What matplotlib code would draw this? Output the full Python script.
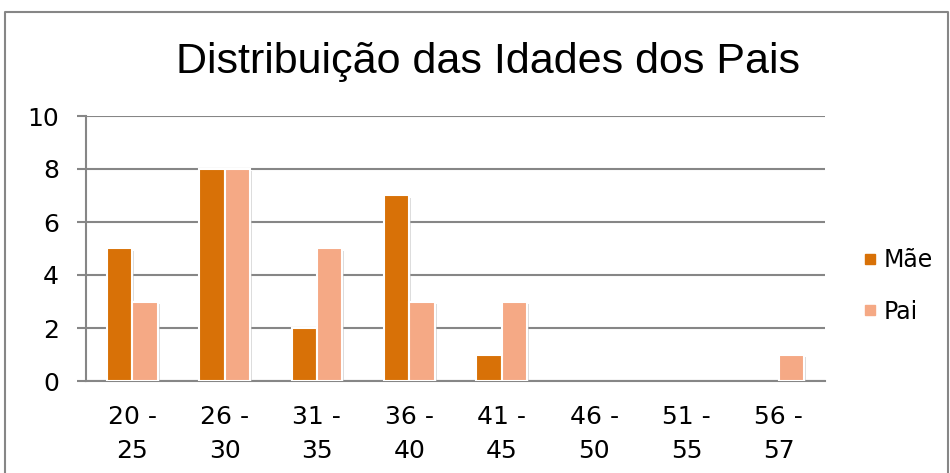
import matplotlib
matplotlib.use("Agg")
import matplotlib.pyplot as plt
import matplotlib.patheffects as pe
from matplotlib.lines import Line2D
import numpy as np

categories = ["20 -\n25", "26 -\n30", "31 -\n35", "36 -\n40", "41 -\n45", "46 -\n50", "51 -\n55", "56 -\n57"]
mae = [5, 8, 2, 7, 1, 0, 0, 0]
pai = [3, 8, 5, 3, 3, 0, 0, 1]
series_names = ["Mãe", "Pai"]
colors = ["#D87107", "#F5A985"]
yticks = [0, 2, 4, 6, 8, 10]
title = "Distribuição das Idades dos Pais"

W, H = 950, 473
fig = plt.figure(figsize=(W / 100, H / 100), dpi=100)
ax = fig.add_axes([86 / W, 1 - 381 / H, (825 - 86) / W, (381 - 116) / H])

x = np.arange(len(categories))
bw = 0.275
shadow = [pe.SimplePatchShadow(offset=(1.5, -1.5), shadow_rgbFace="#BBBBBB", alpha=0.5), pe.Normal()]
for vals, off, c, name in [(mae, -bw / 2, colors[0], series_names[0]), (pai, bw / 2, colors[1], series_names[1])]:
    bars = ax.bar(x + off, vals, width=bw, color=c, edgecolor="white", linewidth=1.5, zorder=3, label=name)
    for b, v in zip(bars, vals):
        if v > 0:
            b.set_path_effects(shadow)
        else:
            b.set_visible(False)

ax.set_xlim(-0.5, len(categories) - 0.5)
ax.set_ylim(0, 10)
ax.set_yticks(yticks)
ax.set_yticklabels([str(t) for t in yticks], fontfamily="DejaVu Sans", fontsize=18)
ax.set_xticks(x)
ax.set_xticklabels(categories, fontfamily="DejaVu Sans", fontsize=18, linespacing=1.57)
ax.tick_params(axis="x", length=0, pad=17)
ax.tick_params(axis="y", length=6.5, width=1.5, color="#868686", pad=13, direction="out")
ax.yaxis.grid(True, color="#868686", linewidth=1.5, zorder=0)
for s in ["top", "right"]:
    ax.spines[s].set_visible(False)
for s in ["left", "bottom"]:
    ax.spines[s].set_color("#868686")
    ax.spines[s].set_linewidth(1.5)

fig.text(488 / W, 1 - 62 / H, title, ha="center", va="center", fontfamily="Liberation Sans", fontsize=31)

handles = [Line2D([], [], marker="s", linestyle="none", markersize=7.5, markerfacecolor=c, markeredgecolor=c) for c in colors]
fig.legend(handles, series_names, loc="center left", bbox_to_anchor=(842 / W, 1 - 286 / H), frameon=False,
           prop={"family": "DejaVu Sans", "size": 17}, handlelength=0.6, handletextpad=0.25, labelspacing=1.15)

# outer chart border
fig.add_artist(Line2D([5 / W, 5 / W, 948 / W, 948 / W], [0, 1 - 12 / H, 1 - 12 / H, 0], transform=fig.transFigure, color="#868686", linewidth=1.5))

fig.savefig("out.png", dpi=100)
